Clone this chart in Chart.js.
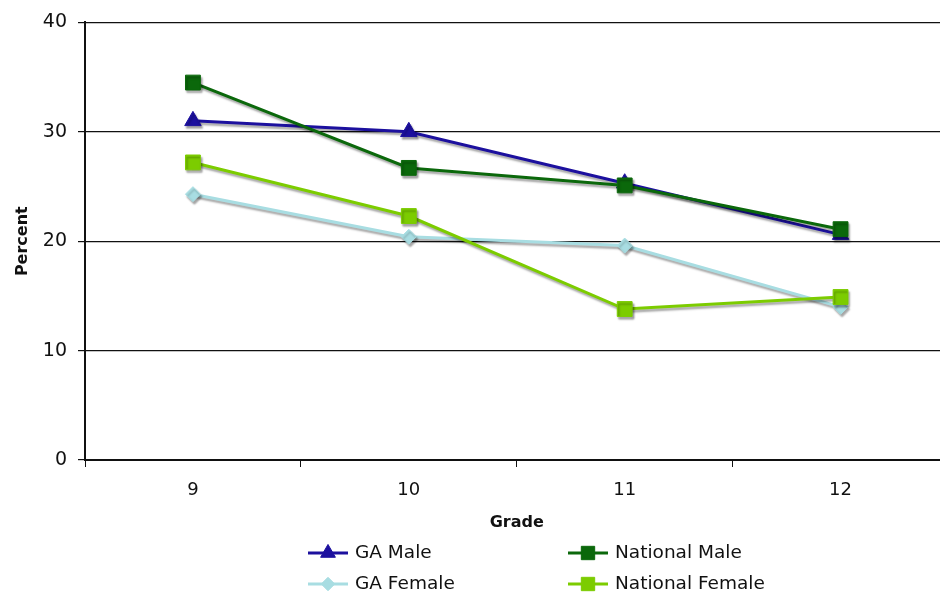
<!DOCTYPE html>
<html>
<head>
<meta charset="utf-8">
<script src="https://cdn.jsdelivr.net/npm/chart.js@4"></script>
<style>
  html, body { margin: 0; padding: 0; background: #fff; overflow: hidden; }
  #wrap { position: absolute; left: 0; top: 0; width: 960px; height: 592px; }
</style>
</head>
<body>
<div id="wrap"><canvas id="c" width="960" height="592"></canvas></div>
<script>
const grades = ["9", "10", "11", "12"];
const gaMale = [31.0, 30.0, 25.3, 20.6];
const nationalMale = [34.5, 26.7, 25.1, 21.1];
const gaFemale = [24.3, 20.4, 19.6, 14.0];
const nationalFemale = [27.2, 22.3, 13.8, 14.9];
const yTicks = [0, 10, 20, 30, 40];

const FONT = "'DejaVu Sans', Verdana, sans-serif";

const shadowPlugin = {
  id: 'shadow',
  beforeDatasetsDraw(chart) {
    const ctx = chart.ctx;
    ctx.save();
    ctx.shadowColor = 'rgba(0,0,0,0.35)';
    ctx.shadowOffsetX = 1.5;
    ctx.shadowOffsetY = 2.5;
    ctx.shadowBlur = 2;
  },
  afterDatasetsDraw(chart) {
    chart.ctx.restore();
  }
};

const legendPlugin = {
  id: 'gridLegend',
  afterDraw(chart) {
    const ctx = chart.ctx;
    const cols = [308, 568];
    const rows = [553, 584];
    const layout = [0, 1, 2, 3];
    ctx.save();
    layout.forEach((di, i) => {
      const ds = chart.data.datasets[di];
      const x = cols[i % 2];
      const y = rows[Math.floor(i / 2)];
      ctx.strokeStyle = ds.borderColor;
      ctx.lineWidth = 3;
      ctx.beginPath();
      ctx.moveTo(x, y);
      ctx.lineTo(x + 40, y);
      ctx.stroke();
      ctx.fillStyle = ds.borderColor;
      ctx.lineWidth = 1;
      Chart.helpers.drawPoint(ctx, {pointStyle: ds.pointStyle, radius: ds.pointRadius * 0.9, rotation: 0, borderWidth: 1}, x + 20, y);
      ctx.fillStyle = '#111';
      ctx.font = '18.5px ' + FONT;
      ctx.textAlign = 'left';
      ctx.textBaseline = 'middle';
      ctx.fillText(ds.label, x + 47, y);
    });
    ctx.restore();
  }
};

function mkDs(label, data, color, style, radius, order) {
  return {
    label, data,
    borderColor: color,
    backgroundColor: color,
    pointBackgroundColor: color,
    pointBorderColor: color,
    pointStyle: style,
    pointRadius: radius,
    pointHoverRadius: radius,
    pointBorderWidth: 1,
    borderWidth: 3,
    tension: 0,
    fill: false,
    order
  };
}

new Chart(document.getElementById('c'), {
  type: 'line',
  data: {
    labels: grades,
    datasets: [
      mkDs('GA Male', gaMale, '#1c109e', 'triangle', 9.5, 4),
      mkDs('National Male', nationalMale, '#0b680b', 'rect', 10.5, 2),
      mkDs('GA Female', gaFemale, '#a8dde2', 'rectRot', 7.5, 3),
      mkDs('National Female', nationalFemale, '#7ccc00', 'rect', 10.5, 1)
    ]
  },
  options: {
    responsive: false,
    animation: false,
    events: [],
    layout: { padding: { left: 0, right: 7, top: 21, bottom: 52 } },
    plugins: { legend: { display: false }, tooltip: { enabled: false } },
    scales: {
      x: {
        type: 'category',
        offset: true,
        grid: { offset: true, drawOnChartArea: false, drawTicks: true, tickLength: 7, color: '#111', lineWidth: 1 },
        border: { color: '#111', width: 2 },
        ticks: { color: '#111', font: { family: FONT, size: 18 }, padding: 13, maxRotation: 0 },
        title: { display: true, text: 'Grade', color: '#111', font: { family: FONT, size: 16, weight: 'bold' }, padding: { top: 0, bottom: 8 } },
        afterFit(scale) { scale.height = 80; }
      },
      y: {
        min: 0, max: 40,
        afterBuildTicks(scale) { scale.ticks = yTicks.map(v => ({ value: v })); },
        grid: { color: '#111', lineWidth: 1.2, tickLength: 7 },
        border: { color: '#111', width: 2 },
        ticks: { color: '#111', font: { family: FONT, size: 19 }, padding: 11 },
        title: { display: true, text: 'Percent', color: '#111', font: { family: FONT, size: 16, weight: 'bold' }, padding: { top: 13, bottom: 0 } },
        afterFit(scale) { scale.width = 85; }
      }
    }
  },
  plugins: [shadowPlugin, legendPlugin]
});
</script>
</body>
</html>
